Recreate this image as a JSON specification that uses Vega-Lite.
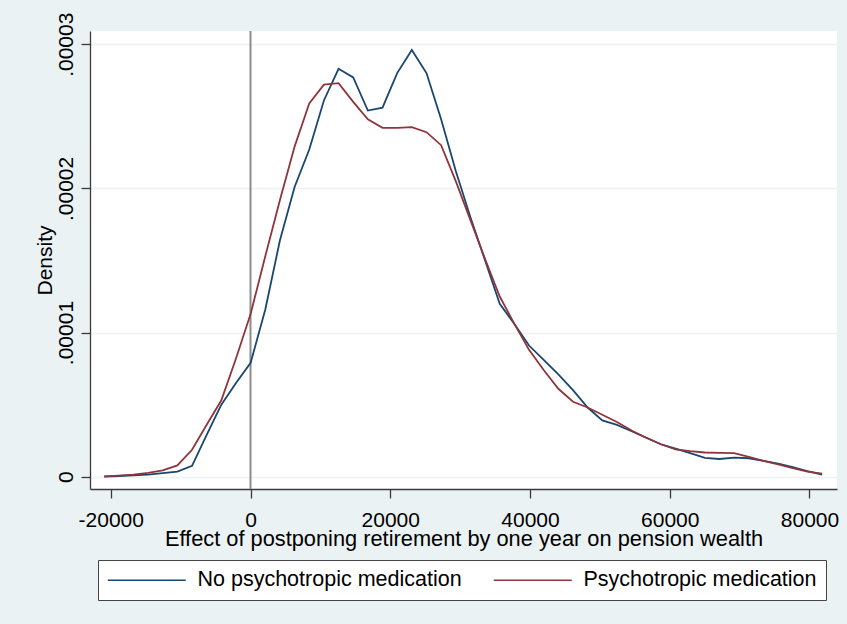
{
  "$schema": "https://vega.github.io/schema/vega-lite/v6.json",
  "width": 747,
  "height": 458,
  "autosize": {"type": "none"},
  "padding": {"left": 90, "top": 31, "right": 10, "bottom": 135},
  "background": "#eaf2f3",
  "config": {
    "view": {"fill": "white", "stroke": null},
    "font": "Liberation Sans",
    "axis": {
      "domainColor": "#3a3a3a",
      "domainWidth": 1.3,
      "tickColor": "#3a3a3a",
      "tickWidth": 1.3,
      "tickSize": 9,
      "labelFont": "Liberation Sans",
      "labelFontSize": 21,
      "labelColor": "black",
      "titleFont": "Liberation Sans",
      "titleFontSize": 21,
      "titleFontWeight": "normal",
      "titleColor": "black"
    }
  },
  "datasets": {
    "dens": [
      {"x": -20950, "d": 0.0, "g": "No psychotropic medication"},
      {"x": -18853, "d": 0.00000005, "g": "No psychotropic medication"},
      {"x": -16756, "d": 0.0000001, "g": "No psychotropic medication"},
      {"x": -14659, "d": 0.00000015, "g": "No psychotropic medication"},
      {"x": -12562, "d": 0.00000025, "g": "No psychotropic medication"},
      {"x": -10465, "d": 0.00000035, "g": "No psychotropic medication"},
      {"x": -8368, "d": 0.00000075, "g": "No psychotropic medication"},
      {"x": -6271, "d": 0.0000029, "g": "No psychotropic medication"},
      {"x": -4174, "d": 0.000005, "g": "No psychotropic medication"},
      {"x": -2077, "d": 0.0000065, "g": "No psychotropic medication"},
      {"x": 20, "d": 0.0000079, "g": "No psychotropic medication"},
      {"x": 2117, "d": 0.0000116, "g": "No psychotropic medication"},
      {"x": 4214, "d": 0.0000164, "g": "No psychotropic medication"},
      {"x": 6311, "d": 0.0000201, "g": "No psychotropic medication"},
      {"x": 8408, "d": 0.0000227, "g": "No psychotropic medication"},
      {"x": 10505, "d": 0.0000261, "g": "No psychotropic medication"},
      {"x": 12602, "d": 0.0000283, "g": "No psychotropic medication"},
      {"x": 14699, "d": 0.0000277, "g": "No psychotropic medication"},
      {"x": 16796, "d": 0.0000254, "g": "No psychotropic medication"},
      {"x": 18893, "d": 0.0000256, "g": "No psychotropic medication"},
      {"x": 20990, "d": 0.000028, "g": "No psychotropic medication"},
      {"x": 23087, "d": 0.0000296, "g": "No psychotropic medication"},
      {"x": 25184, "d": 0.000028, "g": "No psychotropic medication"},
      {"x": 27281, "d": 0.0000248, "g": "No psychotropic medication"},
      {"x": 29378, "d": 0.0000212, "g": "No psychotropic medication"},
      {"x": 31475, "d": 0.000018, "g": "No psychotropic medication"},
      {"x": 33572, "d": 0.000015, "g": "No psychotropic medication"},
      {"x": 35669, "d": 0.000012, "g": "No psychotropic medication"},
      {"x": 37766, "d": 0.0000106, "g": "No psychotropic medication"},
      {"x": 39863, "d": 0.0000091, "g": "No psychotropic medication"},
      {"x": 41960, "d": 0.0000081, "g": "No psychotropic medication"},
      {"x": 44057, "d": 0.0000071, "g": "No psychotropic medication"},
      {"x": 46154, "d": 0.000006, "g": "No psychotropic medication"},
      {"x": 48251, "d": 0.0000048, "g": "No psychotropic medication"},
      {"x": 50348, "d": 0.0000039, "g": "No psychotropic medication"},
      {"x": 52445, "d": 0.0000036, "g": "No psychotropic medication"},
      {"x": 54542, "d": 0.00000315, "g": "No psychotropic medication"},
      {"x": 56639, "d": 0.0000027, "g": "No psychotropic medication"},
      {"x": 58736, "d": 0.00000225, "g": "No psychotropic medication"},
      {"x": 60833, "d": 0.00000195, "g": "No psychotropic medication"},
      {"x": 62930, "d": 0.00000163, "g": "No psychotropic medication"},
      {"x": 65027, "d": 0.0000013, "g": "No psychotropic medication"},
      {"x": 67124, "d": 0.00000123, "g": "No psychotropic medication"},
      {"x": 69221, "d": 0.00000133, "g": "No psychotropic medication"},
      {"x": 71318, "d": 0.00000128, "g": "No psychotropic medication"},
      {"x": 73415, "d": 0.0000011, "g": "No psychotropic medication"},
      {"x": 75512, "d": 0.0000009, "g": "No psychotropic medication"},
      {"x": 77609, "d": 0.00000066, "g": "No psychotropic medication"},
      {"x": 79706, "d": 0.00000038, "g": "No psychotropic medication"},
      {"x": 81803, "d": 0.00000014, "g": "No psychotropic medication"},
      {"x": -20950, "d": 0.00000002, "g": "Psychotropic medication"},
      {"x": -18853, "d": 0.00000007, "g": "Psychotropic medication"},
      {"x": -16756, "d": 0.00000014, "g": "Psychotropic medication"},
      {"x": -14659, "d": 0.00000026, "g": "Psychotropic medication"},
      {"x": -12562, "d": 0.00000044, "g": "Psychotropic medication"},
      {"x": -10465, "d": 0.00000078, "g": "Psychotropic medication"},
      {"x": -8368, "d": 0.00000187, "g": "Psychotropic medication"},
      {"x": -6271, "d": 0.0000036, "g": "Psychotropic medication"},
      {"x": -4174, "d": 0.0000053, "g": "Psychotropic medication"},
      {"x": -2077, "d": 0.0000082, "g": "Psychotropic medication"},
      {"x": 20, "d": 0.0000113, "g": "Psychotropic medication"},
      {"x": 2117, "d": 0.0000153, "g": "Psychotropic medication"},
      {"x": 4214, "d": 0.0000192, "g": "Psychotropic medication"},
      {"x": 6311, "d": 0.0000229, "g": "Psychotropic medication"},
      {"x": 8408, "d": 0.0000259, "g": "Psychotropic medication"},
      {"x": 10505, "d": 0.0000272, "g": "Psychotropic medication"},
      {"x": 12602, "d": 0.0000273, "g": "Psychotropic medication"},
      {"x": 14699, "d": 0.000026, "g": "Psychotropic medication"},
      {"x": 16796, "d": 0.0000248, "g": "Psychotropic medication"},
      {"x": 18893, "d": 0.0000242, "g": "Psychotropic medication"},
      {"x": 20990, "d": 0.0000242, "g": "Psychotropic medication"},
      {"x": 23087, "d": 0.00002425, "g": "Psychotropic medication"},
      {"x": 25184, "d": 0.0000239, "g": "Psychotropic medication"},
      {"x": 27281, "d": 0.000023, "g": "Psychotropic medication"},
      {"x": 29378, "d": 0.0000205, "g": "Psychotropic medication"},
      {"x": 31475, "d": 0.0000178, "g": "Psychotropic medication"},
      {"x": 33572, "d": 0.0000151, "g": "Psychotropic medication"},
      {"x": 35669, "d": 0.0000125, "g": "Psychotropic medication"},
      {"x": 37766, "d": 0.0000106, "g": "Psychotropic medication"},
      {"x": 39863, "d": 0.0000088, "g": "Psychotropic medication"},
      {"x": 41960, "d": 0.0000074, "g": "Psychotropic medication"},
      {"x": 44057, "d": 0.0000061, "g": "Psychotropic medication"},
      {"x": 46154, "d": 0.0000052, "g": "Psychotropic medication"},
      {"x": 48251, "d": 0.0000048, "g": "Psychotropic medication"},
      {"x": 50348, "d": 0.0000043, "g": "Psychotropic medication"},
      {"x": 52445, "d": 0.0000038, "g": "Psychotropic medication"},
      {"x": 54542, "d": 0.0000032, "g": "Psychotropic medication"},
      {"x": 56639, "d": 0.0000027, "g": "Psychotropic medication"},
      {"x": 58736, "d": 0.00000225, "g": "Psychotropic medication"},
      {"x": 60833, "d": 0.0000019, "g": "Psychotropic medication"},
      {"x": 62930, "d": 0.00000177, "g": "Psychotropic medication"},
      {"x": 65027, "d": 0.00000168, "g": "Psychotropic medication"},
      {"x": 67124, "d": 0.00000166, "g": "Psychotropic medication"},
      {"x": 69221, "d": 0.00000163, "g": "Psychotropic medication"},
      {"x": 71318, "d": 0.00000137, "g": "Psychotropic medication"},
      {"x": 73415, "d": 0.0000011, "g": "Psychotropic medication"},
      {"x": 75512, "d": 0.00000085, "g": "Psychotropic medication"},
      {"x": 77609, "d": 0.00000059, "g": "Psychotropic medication"},
      {"x": 79706, "d": 0.00000035, "g": "Psychotropic medication"},
      {"x": 81803, "d": 0.00000021, "g": "Psychotropic medication"}
    ],
    "vline": [{"x": 0}]
  },
  "layer": [
    {
      "data": {"name": "vline"},
      "mark": {"type": "rule", "color": "#8c8c8c", "strokeWidth": 2},
      "encoding": {
        "x": {
          "field": "x", "type": "quantitative",
          "scale": {"domain": [-22970, 83936], "nice": false, "zero": false},
          "axis": {
            "values": [-20000, 0, 20000, 40000, 60000, 80000],
            "labelExpr": "'' + datum.value",
            "grid": false,
            "labelPadding": 11,
            "labelFlush": false,
            "title": "Effect of postponing retirement by one year on pension wealth",
            "titleFontSize": 21.8,
            "titlePadding": -2
          }
        }
      }
    },
    {
      "data": {"name": "dens"},
      "mark": {"type": "line", "strokeWidth": 1.8},
      "encoding": {
        "x": {
          "field": "x", "type": "quantitative",
          "scale": {"domain": [-22970, 83936], "nice": false, "zero": false},
          "axis": {
            "values": [-20000, 0, 20000, 40000, 60000, 80000],
            "labelExpr": "'' + datum.value",
            "grid": false,
            "labelPadding": 11,
            "labelFlush": false,
            "title": "Effect of postponing retirement by one year on pension wealth",
            "titleFontSize": 21.8,
            "titlePadding": -2
          }
        },
        "y": {
          "field": "d", "type": "quantitative",
          "scale": {"domain": [-0.000000853, 0.00003092], "nice": false, "zero": false},
          "axis": {
            "values": [0, 0.00001, 0.00002, 0.00003],
            "labelExpr": "datum.value == 0 ? '0' : '.0000' + round(datum.value * 100000)",
            "labelAngle": -90,
            "labelAlign": "center",
            "labelBaseline": "alphabetic",
            "labelPadding": 8.5,
            "labelFlush": false,
            "grid": true,
            "gridColor": "#eaf2f3",
            "gridWidth": 1.5,
            "title": "Density",
            "titlePadding": 0
          }
        },
        "color": {
          "field": "g", "type": "nominal",
          "scale": {"domain": ["No psychotropic medication", "Psychotropic medication"], "range": ["#1a476f", "#90353b"]},
          "legend": {
            "orient": "none",
            "legendX": 8,
            "legendY": 529,
            "direction": "horizontal",
            "columns": 2,
            "title": null,
            "symbolType": "M-4,0H4",
            "symbolSize": 380,
            "symbolStrokeWidth": 1.5,
            "symbolOffset": 29,
            "labelOffset": 40,
            "labelFont": "Liberation Sans",
            "labelFontSize": 21.5,
            "labelColor": "black",
            "labelLimit": 400,
            "fillColor": "white",
            "strokeColor": "#444444",
            "padding": 9,
            "columnPadding": 28
          }
        }
      }
    }
  ]
}
